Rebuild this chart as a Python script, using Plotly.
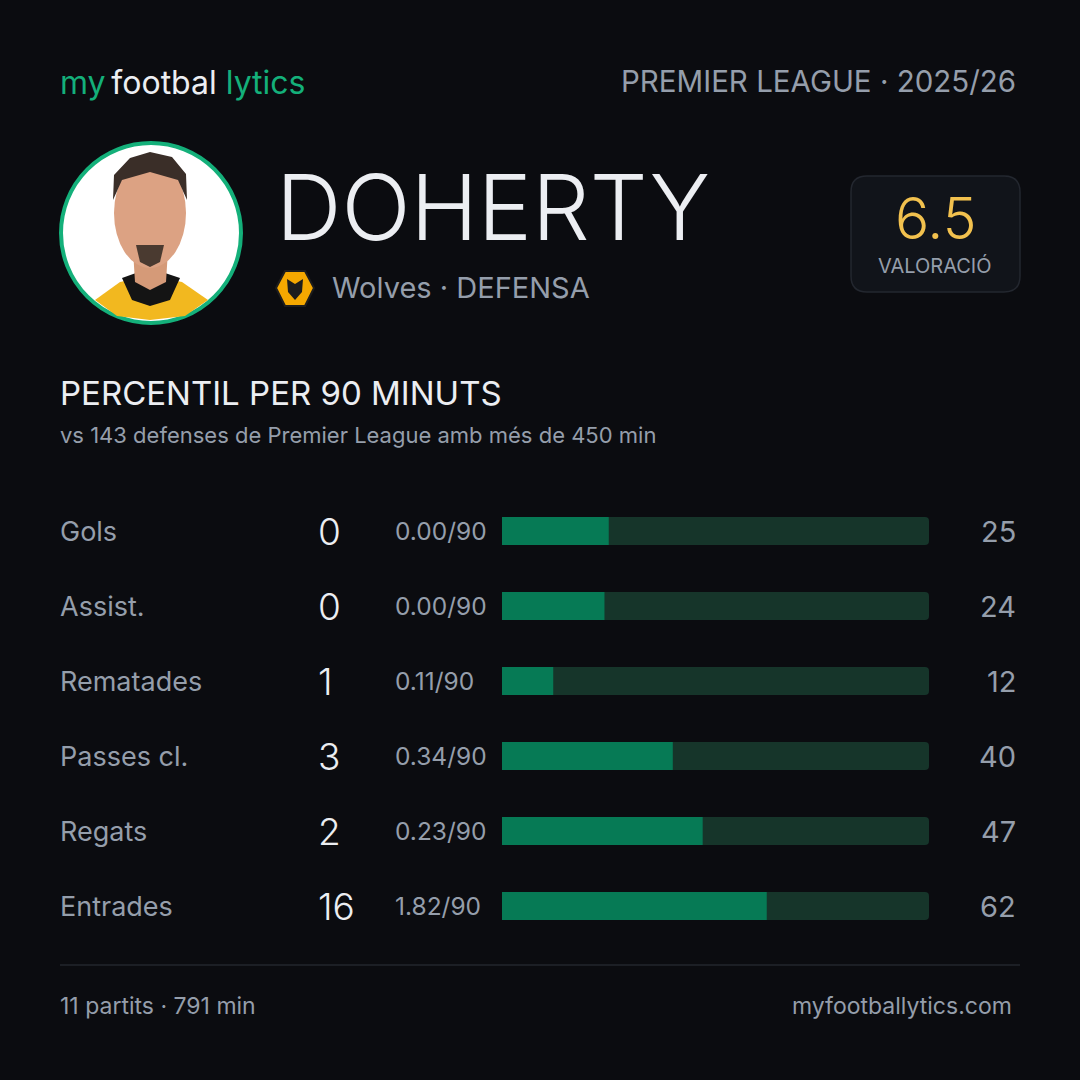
import plotly.graph_objects as go

# ---- data ----
metrics = ["Gols", "Assist.", "Rematades", "Passes cl.", "Regats", "Entrades"]
totals = [0, 0, 1, 3, 2, 16]
per90 = ["0.00/90", "0.00/90", "0.11/90", "0.34/90", "0.23/90", "1.82/90"]
percentiles = [25, 24, 12, 40, 47, 62]

player = "DOHERTY"
team_line = "Wolves · DEFENSA"
competition = "PREMIER LEAGUE · 2025/26"
rating = "6.5"
rating_label = "VALORACIÓ"
section_title = "PERCENTIL PER 90 MINUTS"
section_sub = "vs 143 defenses de Premier League amb més de 450 min"
footer_left = "11 partits · 791 min"
footer_right = "myfootballytics.com"

# ---- style ----
W = H = 1080
BG = "#0b0c10"
GREEN = "#14b07a"
BAR = "#067a55"
TRACK = "#16352a"
WHITE = "#eceef2"
GREY = "#959eab"
FONT = "Inter"


def px(x):
    return x / W


def py(y):
    return 1 - y / H


def rrect(x0, y0, x1, y1, r):
    # rounded rectangle path in paper coords (pixel input, top-left origin)
    pts = [
        f"M{px(x0 + r)},{py(y0)}",
        f"L{px(x1 - r)},{py(y0)}",
        f"Q{px(x1)},{py(y0)} {px(x1)},{py(y0 + r)}",
        f"L{px(x1)},{py(y1 - r)}",
        f"Q{px(x1)},{py(y1)} {px(x1 - r)},{py(y1)}",
        f"L{px(x0 + r)},{py(y1)}",
        f"Q{px(x0)},{py(y1)} {px(x0)},{py(y1 - r)}",
        f"L{px(x0)},{py(y0 + r)}",
        f"Q{px(x0)},{py(y0)} {px(x0 + r)},{py(y0)}",
        "Z",
    ]
    return " ".join(pts)


def poly(points):
    s = "M" + " L".join(f"{px(x)},{py(y)}" for x, y in points)
    return s + " Z"


fig = go.Figure()

# background tracks and percentile bars
fig.add_trace(go.Bar(
    y=metrics, x=[100] * len(metrics), orientation="h",
    marker=dict(color=TRACK, line=dict(width=0)), width=0.373,
    hoverinfo="skip", showlegend=False,
))
fig.add_trace(go.Bar(
    y=metrics, x=percentiles, orientation="h",
    marker=dict(color=BAR, line=dict(width=0)), width=0.373,
    hoverinfo="skip", showlegend=False,
))

ann = []


def text(x, y, s, size, color, anchor="left", yref="paper", weight=400):
    ann.append(dict(
        x=x, y=y, xref="paper", yref=yref, text=s, showarrow=False,
        xanchor=anchor, yanchor="middle",
        font=dict(family=FONT, size=size, color=color, weight=weight),
    ))


# header
text(px(58), py(83),
     f"<span style='color:{GREEN}'>my</span>\u2009footbal <span style='color:{GREEN}'>lytics</span>",
     32, WHITE)
text(px(1018), py(81), competition, 29.5, GREY, anchor="right")

# player name / team
text(px(274), py(207), player, 91, WHITE, weight=300)
text(px(330), py(288), team_line, 29, GREY)

# rating box
text(px(935), py(219), rating, 57, "#f2c14e", anchor="center", weight=300)
text(px(935), py(265), rating_label, 20, GREY, anchor="center")

# section headings
text(px(58), py(393), section_title, 33, WHITE)
text(px(58), py(435), section_sub, 22, GREY)

# per-metric rows
for m, t, p9, pc in zip(metrics, totals, per90, percentiles):
    text(px(58), m, m, 27, GREY, yref="y")
    text(px(316), m, str(t), 37, WHITE, yref="y", weight=300)
    text(px(393), m, p9, 24.5, GREY, yref="y")
    text(px(1018), m, str(pc), 29, GREY, anchor="right", yref="y")

# footer
text(px(58), py(1006), footer_left, 23, GREY)
text(px(1014), py(1006), footer_right, 23, GREY, anchor="right")

shapes = [
    # rating box
    dict(type="path", xref="paper", yref="paper", path=rrect(851, 176, 1020, 292, 16),
         fillcolor="#11141a", line=dict(color="#23272f", width=1.5), layer="below"),
    # footer rule
    dict(type="line", xref="paper", yref="paper", x0=px(60), x1=px(1020), y0=py(965), y1=py(965),
         line=dict(color="#23262d", width=1.5)),
    # avatar circle
    dict(type="circle", xref="paper", yref="paper", x0=px(61), x1=px(241), y0=py(143), y1=py(323),
         fillcolor="#ffffff", line=dict(color=GREEN, width=4)),
    # simple player silhouette: shirt
    dict(type="path", xref="paper", yref="paper",
         path=poly([(95, 300), (120, 282), (150, 276), (182, 282), (208, 300), (185, 316), (150, 320), (117, 316)]),
         fillcolor="#f2b81f", line=dict(width=0)),
    dict(type="path", xref="paper", yref="paper",
         path=poly([(122, 278), (150, 268), (180, 278), (170, 300), (150, 306), (132, 300)]),
         fillcolor="#141414", line=dict(width=0)),
    # neck
    dict(type="path", xref="paper", yref="paper",
         path=poly([(133, 250), (168, 250), (166, 282), (150, 290), (135, 282)]),
         fillcolor="#d59a78", line=dict(width=0)),
    # head
    dict(type="circle", xref="paper", yref="paper", x0=px(114), x1=px(186), y0=py(158), y1=py(268),
         fillcolor="#dca283", line=dict(width=0)),
    # hair
    dict(type="path", xref="paper", yref="paper",
         path=poly([(113, 200), (114, 175), (130, 158), (150, 152), (172, 157), (186, 174), (187, 200), (178, 180), (150, 172), (122, 180)]),
         fillcolor="#3a2e28", line=dict(width=0)),
    # beard
    dict(type="path", xref="paper", yref="paper",
         path=poly([(136, 245), (164, 245), (160, 262), (150, 267), (140, 262)]),
         fillcolor="#4a3a30", line=dict(width=0)),
    # wolves badge
    dict(type="path", xref="paper", yref="paper",
         path=poly([(285, 271), (305, 271), (314, 288), (305, 306), (285, 306), (276, 288)]),
         fillcolor="#f5a800", line=dict(color="#1d1d1d", width=2)),
    dict(type="path", xref="paper", yref="paper",
         path=poly([(287, 279), (295, 284), (303, 279), (302, 292), (295, 300), (288, 292)]),
         fillcolor="#1d1d1d", line=dict(width=0)),
]

fig.update_layout(
    width=W, height=H,
    margin=dict(l=0, r=0, t=0, b=0),
    paper_bgcolor=BG, plot_bgcolor=BG,
    barmode="overlay", barcornerradius=4,
    showlegend=False,
    xaxis=dict(domain=[px(502), px(929)], range=[0, 100], visible=False, fixedrange=True),
    yaxis=dict(domain=[py(943.5), py(493.5)], range=[5.5, -0.5], visible=False,
               categoryorder="array", categoryarray=metrics, fixedrange=True),
    annotations=ann,
    shapes=shapes,
    font=dict(family=FONT),
)

# page has a default 8px body margin; drop it so the card fills the window
fig.write_html(
    "out.html",
    config={"displayModeBar": False},
    post_script="document.body.style.margin='0';document.body.style.overflow='hidden';",
)
